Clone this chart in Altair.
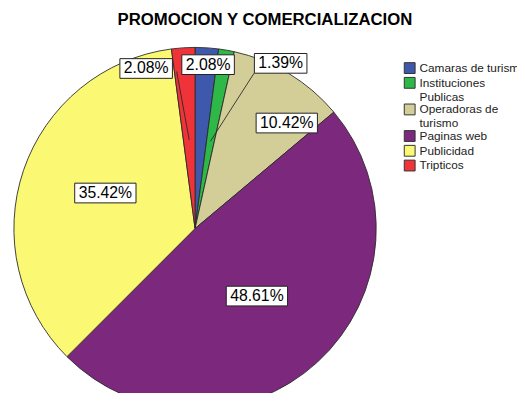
import altair as alt
import pandas as pd

# ---- data ----
CATEGORIES = ["Camaras de turismo", "Instituciones Publicas", "Operadoras de turismo",
              "Paginas web", "Publicidad", "Tripticos"]
PERCENTS = [2.08, 1.39, 10.42, 48.61, 35.42, 2.08]
LABELS = ["2.08%", "1.39%", "10.42%", "48.61%", "35.42%", "2.08%"]

# ---- style ----
COLORS = ["#3E58AC", "#2EB848", "#D3CE97", "#7C287D", "#FBF873", "#EF3338"]
LABEL_RADIUS = [167, 189, 142, 93, 98, 170]       # px from centre
LABEL_SHIFT = [0.8, 17.4, 9.75, 0.0, 2.85, -13.25]  # deg shift from slice mid angle
LEADER = [0, 1, 0, 0, 0, 1]
LEADER_DX = [0, -27, 0, 0, 0, 31]
LEADER_DY = [0, 10, 0, 0, 0, 3]

W, H = 380, 355
PAD_TOP = 30
CX, CY = 190, 191
R = 184


def text_width(s, size=16):
    widths = {".": 278, "%": 889}
    return sum(widths.get(c, 556) for c in s) * size / 1000.0


df = pd.DataFrame({
    "cat": CATEGORIES,
    "pct": PERCENTS,
    "label": LABELS,
    "order": list(range(len(CATEGORIES))),
    "lr": LABEL_RADIUS,
    "shift": LABEL_SHIFT,
    "leader": LEADER,
    "ldx": LEADER_DX,
    "ldy": LEADER_DY,
    "bw": [text_width(s) + 8 for s in LABELS],
})

base = alt.Chart(df).transform_joinaggregate(
    total="sum(pct)"
).transform_window(
    cum="sum(pct)", sort=[alt.SortField("order")], frame=[None, 0]
).transform_calculate(
    mid="(datum.cum - datum.pct / 2) / datum.total * 2 * PI",
    la="datum.mid + datum.shift * PI / 180",
    lx=f"{CX} + datum.lr * sin(datum.la)",
    ly=f"{CY} - datum.lr * cos(datum.la)",
    bx1="datum.lx - datum.bw / 2",
    bx2="datum.lx + datum.bw / 2",
    by1="datum.ly - 10",
    by2="datum.ly + 10",
    sx="datum.lx + datum.ldx",
    sy="datum.ly + datum.ldy",
    ex=f"{CX} + 90 * sin(datum.mid)",
    ey=f"{CY} - 90 * cos(datum.mid)",
)

label_expr = ("datum.label == 'Instituciones Publicas' ? ['Instituciones', 'Publicas'] : "
              "datum.label == 'Operadoras de turismo' ? ['Operadoras de', 'turismo'] : datum.label")

arc = base.mark_arc(outerRadius=R, stroke="#2a2a2a", strokeWidth=0.9).encode(
    theta=alt.Theta("pct:Q", stack=True),
    color=alt.Color(
        "cat:N",
        scale=alt.Scale(domain=CATEGORIES, range=COLORS),
        legend=alt.Legend(
            title=None, orient="none", legendX=402, legendY=22,
            symbolType="square", symbolSize=121, symbolStrokeColor="#333",
            symbolStrokeWidth=1, labelFont="Liberation Sans", labelFontSize=12,
            labelColor="#222", labelLimit=200, rowPadding=-1, padding=0,
            labelExpr=label_expr, labelOffset=4,
        ),
    ),
    order=alt.Order("order:Q"),
    x=alt.value(CX),
    y=alt.value(CY),
)

leaders = base.mark_rule(color="#2a2a2a", strokeWidth=0.9).encode(
    x=alt.X("sx:Q", scale=None, axis=None),
    y=alt.Y("sy:Q", scale=None, axis=None),
    x2="ex:Q",
    y2="ey:Q",
).transform_filter("datum.leader == 1")

boxes = base.mark_rect(fill="white", stroke="#222", strokeWidth=1).encode(
    x=alt.X("bx1:Q", scale=None, axis=None),
    x2="bx2:Q",
    y=alt.Y("by1:Q", scale=None, axis=None),
    y2="by2:Q",
)

texts = base.mark_text(font="Liberation Sans", fontSize=16, color="black",
                       align="center", baseline="middle").encode(
    x=alt.X("lx:Q", scale=None, axis=None),
    y=alt.Y("ly:Q", scale=None, axis=None),
    text="label:N",
)

chart = alt.layer(arc, leaders, boxes, texts).properties(
    width=W, height=H,
    autosize=alt.AutoSizeParams(type="none"),
    padding={"left": 0, "top": PAD_TOP, "right": 137, "bottom": 0},
    title=alt.TitleParams(
        "PROMOCION Y COMERCIALIZACION", font="Liberation Sans", fontSize=17,
        fontWeight="bold", color="black", anchor="middle", dx=71, offset=14,
        dy=15, baseline="alphabetic", frame="group",
    ),
).configure_view(stroke=None)

chart.save("out.html", embed_options={"renderer": "svg", "actions": False})
